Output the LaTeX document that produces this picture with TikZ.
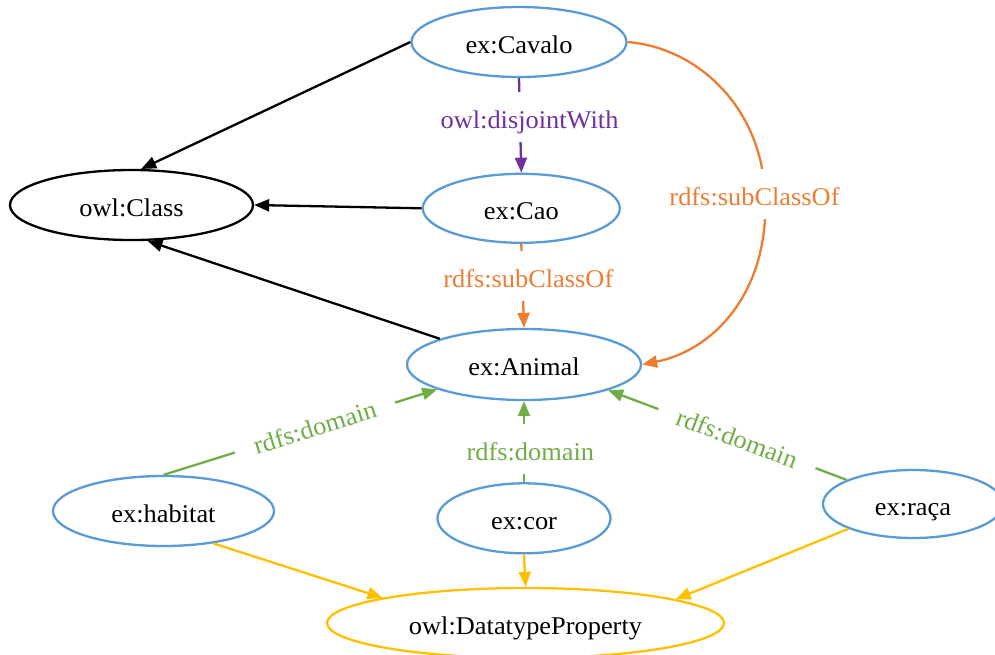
\documentclass[tikz,border=0pt]{standalone}
\usepackage{fontspec}
\setmainfont{Liberation Serif}[FakeStretch=1.035]
\usetikzlibrary{shapes.geometric,arrows.meta}

\definecolor{nodeblue}{HTML}{5B9BD5}
\definecolor{suborange}{HTML}{ED7D31}
\definecolor{domgreen}{HTML}{70AD47}
\definecolor{dtpgold}{HTML}{FFC000}
\definecolor{disjpurple}{HTML}{7030A0}

\tikzset{
  every node/.style={font=\fontsize{25.5pt}{30pt}\selectfont},
  term/.style={ellipse, draw=nodeblue, line width=2.3pt, inner sep=0pt,
    text height=22pt, text depth=0pt},
  rel/.style={line width=2.3pt, -{Triangle[length=15pt,width=12pt]}},
  edgelabel/.style={fill=white, inner sep=0pt, anchor=base,
    text height=36pt, text depth=14pt},
  slopedlabel/.style={fill=white, sloped, inner xsep=20pt, inner ysep=8pt,
    text height=17pt, text depth=0pt},
}

\begin{document}
\begin{tikzpicture}[x=1pt, y=-1pt]
\useasboundingbox (0,0) rectangle (995,654);

% classes and properties
\node[term, minimum width=215pt, minimum height=70pt] (cavalo) at (519,42) {ex:Cavalo};
\node[term, draw=black, minimum width=243pt, minimum height=70pt] (class) at (131.5,205) {owl:Class};
\node[term, minimum width=197pt, minimum height=69pt] (cao) at (521.3,208.3) {ex:Cao};
\node[term, minimum width=234pt, minimum height=71pt] (animal) at (524,364.5) {ex:Animal};
\node[term, minimum width=221pt, minimum height=70pt] (habitat) at (163.5,511) {ex:habitat};
\node[term, minimum width=173pt, minimum height=70pt] (cor) at (524,518.3) {ex:cor};
\node[term, minimum width=180pt, minimum height=68pt] (raca) at (913,504) {ex:raça};
\node[term, draw=dtpgold, minimum width=397pt, minimum height=70pt] (dtp) at (525.5,623) {owl:DatatypeProperty};

% rdf:type links to owl:Class
\draw[rel] (cavalo.west) -- (class.75);
\draw[rel] (cao.west) -- (class.east);
\draw[rel] (animal.163) -- (class.-66);

% disjointness and subclass links
\draw[rel, disjpurple] (cavalo.south) -- (cao.north);
\draw[rel, suborange] (cao.south) -- (animal.north);
\draw[rel, suborange] (cavalo.east) .. controls (700,48) and (762,110) .. (765,195)
  .. controls (770,290) and (715,350) .. (animal.east);

% domains of the datatype properties
\draw[rel, domgreen] (habitat.north) -- node[slopedlabel, pos=0.553, text=domgreen] (domhab) {rdfs:domain} (animal.196);
\draw[rel, domgreen] (cor.north) -- (animal.south);
\draw[rel, domgreen] (raca.160) -- node[slopedlabel, pos=0.46, text=domgreen] (domraca) {rdfs:domain} (animal.-17);

% rdf:type links to owl:DatatypeProperty
\draw[rel, dtpgold] (habitat.-33) -- (dtp.170);
\draw[rel, dtpgold] (cor.south) -- (dtp.north);
\draw[rel, dtpgold] (raca.201) -- (dtp.9.4);

% edge labels
\node[edgelabel, text=disjpurple] (disj) at (529.5,128) {owl:disjointWith};
\node[edgelabel, text=suborange] (subcao) at (528.3,287) {rdfs:subClassOf};
\node[edgelabel, text=suborange] (subcavalo) at (754.5,205) {rdfs:subClassOf};
\node[edgelabel, text=domgreen] (domcor) at (530.3,460) {rdfs:domain};
\end{tikzpicture}
\end{document}
